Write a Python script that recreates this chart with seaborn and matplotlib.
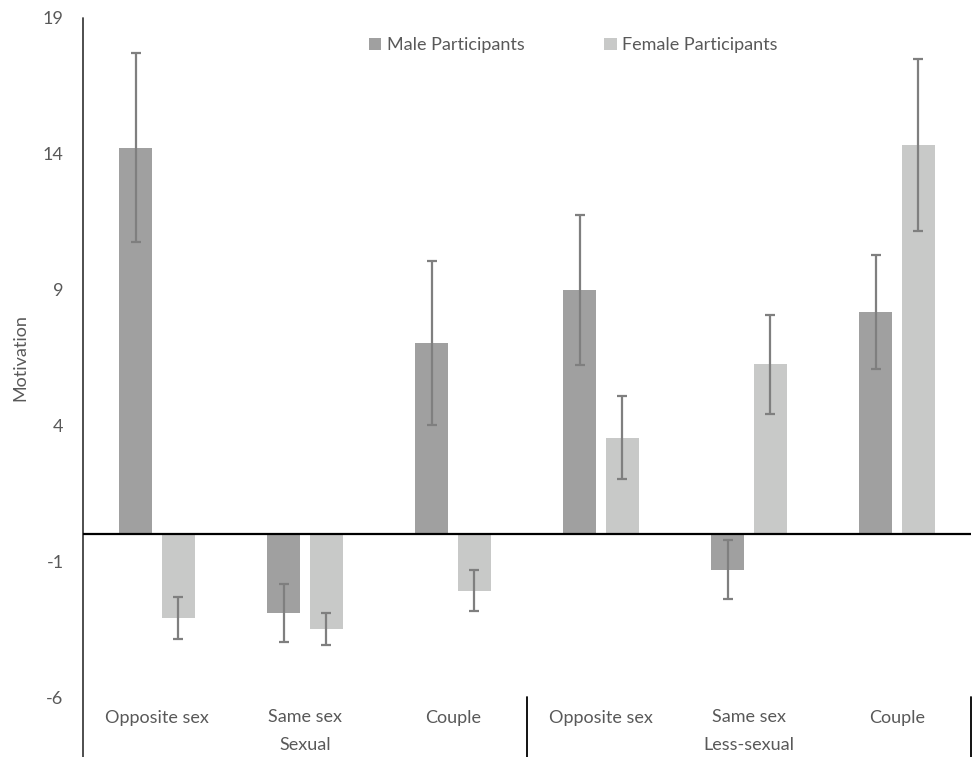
import matplotlib
matplotlib.use("Agg")
import matplotlib.pyplot as plt
import pandas as pd
import seaborn as sns

### --- Data

contexts = ["Sexual", "Sexual", "Sexual", "Less-sexual", "Less-sexual", "Less-sexual"]
conditions = ["Opposite sex", "Same sex", "Couple", "Opposite sex", "Same sex", "Couple"]

male_mean = [14.22, -2.90, 7.04, 8.98, -1.31, 8.18]
male_err = [3.48, 1.07, 3.02, 2.76, 1.10, 2.11]
female_mean = [-3.08, -3.48, -2.08, 3.54, 6.25, 14.33]
female_err = [0.78, 0.59, 0.74, 1.53, 1.83, 3.17]

y_ticks = [-6, -1, 4, 9, 14, 19]
genders = ["Male Participants", "Female Participants"]

# long table for seaborn, one key per bar group (labels repeat so keep them unique)
keys = [c + " | " + k for c, k in zip(contexts, conditions)]
rows = []
for i, key in enumerate(keys):
    rows.append({"key": key, "gender": genders[0], "mean": male_mean[i], "err": male_err[i]})
    rows.append({"key": key, "gender": genders[1], "mean": female_mean[i], "err": female_err[i]})
df = pd.DataFrame(rows)

### --- Plot

sns.set_style("white")
plt.rcParams["font.family"] = ["Lato", "DejaVu Sans"]
plt.rcParams["axes.unicode_minus"] = False

grey_text = "#595959"
fs = 13
palette = {genders[0]: "#a0a0a0", genders[1]: "#c8c9c8"}

fig = plt.figure(figsize=(9.73, 7.57), dpi=100)
ax = fig.add_axes([83 / 973, 60 / 757, 888 / 973, 679 / 757])

sns.barplot(data=df, x="key", y="mean", hue="gender", order=keys, hue_order=genders,
            palette=palette, errorbar=None, width=0.57, gap=0.22, saturation=1,
            edgecolor="none", ax=ax)

# error bars from the values
errs = [male_err, female_err]
for container, err in zip(ax.containers, errs):
    xs = [b.get_x() + b.get_width() / 2 for b in container]
    ys = [b.get_height() for b in container]
    ax.errorbar(xs, ys, yerr=err, fmt="none", ecolor="#7f7f7f", elinewidth=1.6,
                capsize=3.6, capthick=1.6, zorder=3)

ax.set_xlim(-0.5, 5.5)
ax.set_ylim(-6, 19)
ax.set_yticks(y_ticks)
ax.set_yticklabels([str(t) for t in y_ticks])
ax.tick_params(axis="y", direction="in", length=5, width=1.2, color="#404040",
               labelsize=fs, labelcolor=grey_text, pad=14)
ax.set_xticks(range(len(keys)))
ax.set_xticklabels(conditions)
ax.tick_params(axis="x", length=0, labelsize=fs, labelcolor=grey_text, pad=9)
ax.set_xlabel("")
ax.set_ylabel("Motivation", fontsize=fs, color=grey_text, labelpad=10)

for s in ["top", "right", "bottom", "left"]:
    ax.spines[s].set_visible(False)

# zero line
ax.axhline(0, color="black", lw=1.6, zorder=4)

# y axis line running down into the category area, plus group dividers
low = -0.088
ax.plot([0, 0], [low, 1], transform=ax.transAxes, color="#404040", lw=1.3, clip_on=False)
for xd in [2.5, 5.5]:
    ax.plot([xd, xd], [low, 0], transform=ax.get_xaxis_transform(), color="black",
            lw=1.3, clip_on=False)

# group labels
ax.text(1, -0.071, "Sexual", transform=ax.get_xaxis_transform(), ha="center",
        va="center", fontsize=fs, color=grey_text)
ax.text(4, -0.071, "Less-sexual", transform=ax.get_xaxis_transform(), ha="center",
        va="center", fontsize=fs, color=grey_text)

ax.legend(loc="center", bbox_to_anchor=(0.552, 0.96), ncol=2, frameon=False,
          handlelength=0.7, handleheight=0.7, handletextpad=0.3, columnspacing=4.4,
          fontsize=fs, labelcolor=grey_text)

fig.savefig("out.png", dpi=100)
